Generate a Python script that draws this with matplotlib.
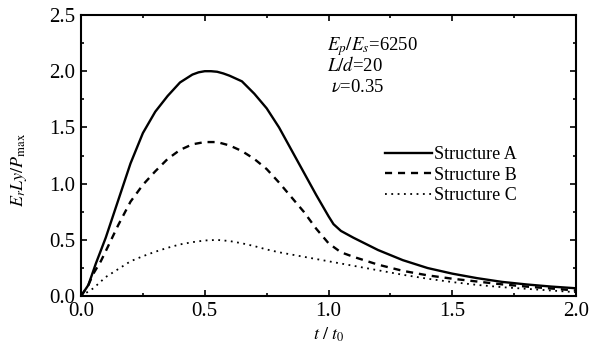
import matplotlib
matplotlib.use('Agg')
import matplotlib.pyplot as plt
from matplotlib.ticker import MultipleLocator

plt.rcParams['font.family'] = 'Liberation Serif'
plt.rcParams['mathtext.fontset'] = 'stix'

# values
t_a = [0, 0.03, 0.06, 0.1, 0.15, 0.2, 0.25, 0.3, 0.35, 0.4, 0.45, 0.475, 0.5, 0.525, 0.55,
       0.575, 0.6, 0.65, 0.7, 0.75, 0.8, 0.85, 0.9, 0.95, 1.0, 1.02, 1.05, 1.1, 1.2, 1.3,
       1.4, 1.5, 1.6, 1.7, 1.8, 1.9, 2.0]
struct_a = [0, 0.1, 0.29, 0.52, 0.85, 1.18, 1.45, 1.64, 1.78, 1.90, 1.97, 1.99, 2.0, 2.0, 1.995,
            1.98, 1.96, 1.91, 1.80, 1.67, 1.50, 1.30, 1.10, 0.90, 0.71, 0.64, 0.58, 0.52, 0.41,
            0.32, 0.25, 0.20, 0.16, 0.127, 0.104, 0.085, 0.07]

t_b = [0, 0.03, 0.05, 0.08, 0.1, 0.15, 0.2, 0.25, 0.3, 0.35, 0.4, 0.45, 0.5, 0.55, 0.6, 0.65,
       0.7, 0.75, 0.8, 0.85, 0.9, 0.95, 1.0, 1.05, 1.1, 1.2, 1.3, 1.4, 1.5, 1.6, 1.7, 1.8, 1.9, 2.0]
struct_b = [0, 0.1, 0.2, 0.31, 0.4, 0.63, 0.84, 0.99, 1.11, 1.22, 1.3, 1.35, 1.37, 1.37, 1.34,
            1.29, 1.22, 1.13, 1.01, 0.88, 0.75, 0.6, 0.47, 0.39, 0.35, 0.28, 0.225, 0.185, 0.155,
            0.13, 0.105, 0.085, 0.068, 0.05]

t_c = [0, 0.05, 0.1, 0.15, 0.2, 0.25, 0.3, 0.35, 0.4, 0.45, 0.5, 0.55, 0.6, 0.65, 0.7, 0.75,
       0.8, 0.85, 0.9, 0.95, 1.0, 1.1, 1.2, 1.3, 1.4, 1.5, 1.6, 1.7, 1.8, 1.9, 2.0]
struct_c = [0, 0.07, 0.17, 0.24, 0.31, 0.355, 0.395, 0.43, 0.46, 0.48, 0.495, 0.5, 0.49, 0.47,
            0.445, 0.415, 0.39, 0.37, 0.35, 0.33, 0.31, 0.27, 0.23, 0.19, 0.155, 0.125, 0.1,
            0.08, 0.065, 0.05, 0.035]

fig = plt.figure(figsize=(6.09, 3.48), dpi=100)
ax = fig.add_axes([0.133, 0.149, 0.813, 0.808])

ax.plot(t_a, struct_a, 'k-', lw=1.7, label='Structure A')
ax.plot(t_b, struct_b, 'k--', lw=1.7, dashes=(3, 2.5), label='Structure B')
ax.plot(t_c, struct_c, 'k:', lw=1.3, dashes=(1, 2.5), label='Structure C')

ax.set_xlim(0, 2.0)
ax.set_ylim(0, 2.5)
ax.xaxis.set_major_locator(MultipleLocator(0.5))
ax.xaxis.set_minor_locator(MultipleLocator(0.25))
ax.yaxis.set_major_locator(MultipleLocator(0.5))
ax.yaxis.set_minor_locator(MultipleLocator(0.25))
ax.xaxis.set_major_formatter(lambda v, p: '%.1f' % v)
ax.yaxis.set_major_formatter(lambda v, p: '%.1f' % v)
ax.tick_params(which='both', direction='in', top=True, right=True, labelsize=15, width=1.2)
ax.tick_params(which='major', length=4, pad=4)
ax.tick_params(which='minor', length=2.5)
for s in ax.spines.values():
    s.set_linewidth(1.5)

ax.set_xlabel(r'$t\ /\ t_0$', fontsize=13)
ax.xaxis.set_label_coords(0.5, -0.105)
ax.set_ylabel(r'$E_rLy/P_{\mathrm{max}}$', fontsize=13)
ax.yaxis.set_label_coords(-0.105, 0.45)

ax.text(0.497, 0.875, r'$E_p/E_s$=6250', transform=ax.transAxes, fontsize=13.5)
ax.text(0.497, 0.80, r'$L/d$=20', transform=ax.transAxes, fontsize=13.5)
ax.text(0.505, 0.725, r'$\nu$=0.35', transform=ax.transAxes, fontsize=13.5)

ax.legend(loc='upper left', bbox_to_anchor=(0.6, 0.56), frameon=False, fontsize=13,
          handlelength=2.6, handletextpad=0.1, labelspacing=0.2, borderaxespad=0)

fig.savefig('out.png', dpi=100)
